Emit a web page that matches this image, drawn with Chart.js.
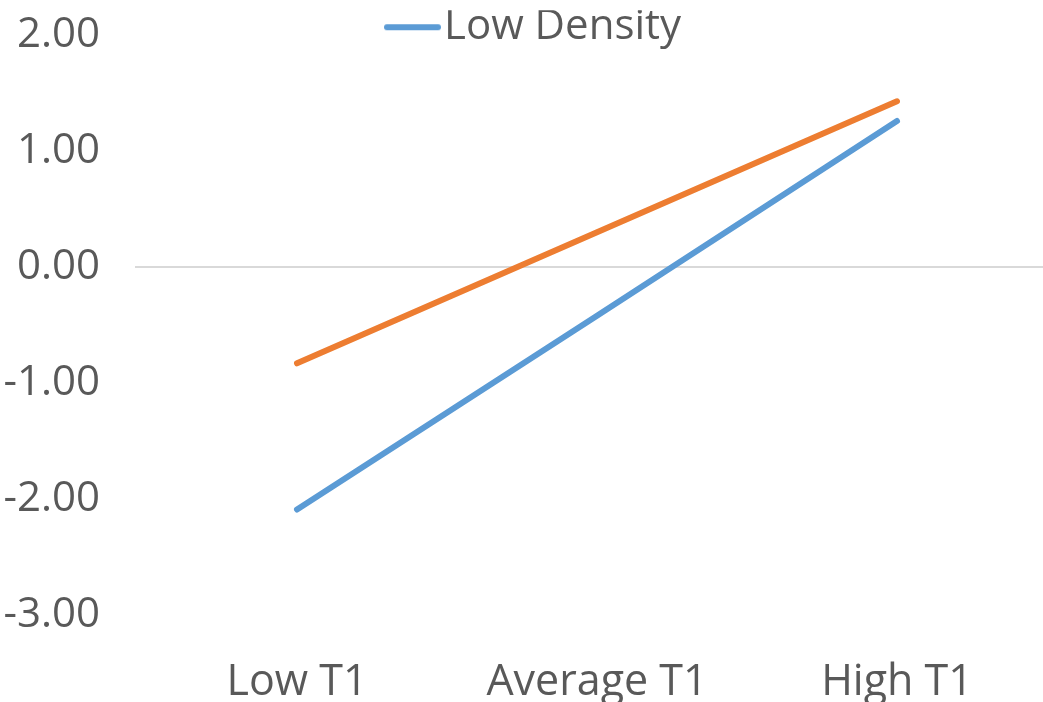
<!DOCTYPE html>
<html>
<head>
<meta charset="utf-8">
<script src="https://cdn.jsdelivr.net/npm/chart.js@4/dist/chart.umd.min.js"></script>
<style>
  html, body { margin: 0; padding: 0; background: #fff; overflow: hidden; }
  #wrap { position: relative; width: 1047px; height: 702px; }
</style>
</head>
<body>
<div id="wrap"><canvas id="myChart"></canvas></div>
<script>
// categories and series values
const categories = ["Low T1", "Average T1", "High T1"];
const lowDensity = [-2.09, -0.42, 1.26];
const highDensity = [-0.83, 0.30, 1.43];
const seriesNames = ["Low Density", "High Density"];
const yMin = -3;
const yMax = 2;

const blue = "#5B9BD5";
const orange = "#ED7D31";
const textColor = "#595959";

// legend marker: a short round-capped line sitting close to the text
function legendLine(color) {
  const c = document.createElement("canvas");
  c.width = 93;
  c.height = 8;
  const g = c.getContext("2d");
  g.strokeStyle = color;
  g.lineWidth = 6;
  g.lineCap = "round";
  g.beginPath();
  g.moveTo(39, 4);
  g.lineTo(90, 4);
  g.stroke();
  return c;
}

// the legend box is kept short so the plot starts high; let its drawing spill below
const legendSpill = {
  id: "legendSpill",
  afterLayout(chart) {
    const l = chart.legend;
    if (l) { l.bottom = l.top + 60; l.height = 60; }
  },
};

window.onload = function () {
  var ctx = document.getElementById("myChart").getContext("2d");

  var myChart = new Chart(ctx, {
    type: "line",
    data: {
      labels: categories,
      datasets: [
        {
          label: seriesNames[0],
          data: lowDensity,
          borderColor: blue,
          backgroundColor: blue,
          borderWidth: 6,
          borderCapStyle: "round",
          pointRadius: 0,
          pointStyle: legendLine(blue),
          tension: 0,
        },
        {
          label: seriesNames[1],
          data: highDensity,
          borderColor: orange,
          backgroundColor: orange,
          borderWidth: 6,
          borderCapStyle: "round",
          pointRadius: 0,
          pointStyle: legendLine(orange),
          tension: 0,
        },
      ],
    },
    plugins: [legendSpill],
    options: {
      responsive: true,
      maintainAspectRatio: false,
      animation: false,
      layout: { padding: 0 },
      plugins: {
        tooltip: { enabled: false },
        legend: {
          position: "top",
          maxHeight: 25,
          labels: {
            // only the first entry shows in the picture
            filter: (item) => item.datasetIndex === 0,
            usePointStyle: true,
            pointStyleWidth: 57,
            padding: -4,
            color: textColor,
            font: { family: "'Open Sans', sans-serif", size: 42 },
          },
        },
      },
      scales: {
        x: {
          offset: true,
          grid: { display: false, drawTicks: false },
          border: { display: false },
          ticks: {
            color: textColor,
            padding: 42,
            maxRotation: 0,
            font: { family: "'Open Sans', sans-serif", size: 43 },
          },
          afterFit: (scale) => { scale.height = 87; },
        },
        y: {
          min: yMin,
          max: yMax,
          border: { display: false },
          grid: {
            lineWidth: 2,
            tickLength: 12,
            // only the zero line is drawn
            color: (c) => (c.tick && c.tick.value === 0 ? "#D9D9D9" : "rgba(0,0,0,0)"),
          },
          ticks: {
            stepSize: 1,
            padding: 35,
            color: textColor,
            // tiny line height so the top label does not push the plot down
            font: { family: "'Open Sans', sans-serif", size: 42, lineHeight: 0.01 },
            callback: (v) => v.toFixed(2),
          },
          afterFit: (scale) => { scale.width = 147; },
        },
      },
    },
  });
};
</script>
</body>
</html>
